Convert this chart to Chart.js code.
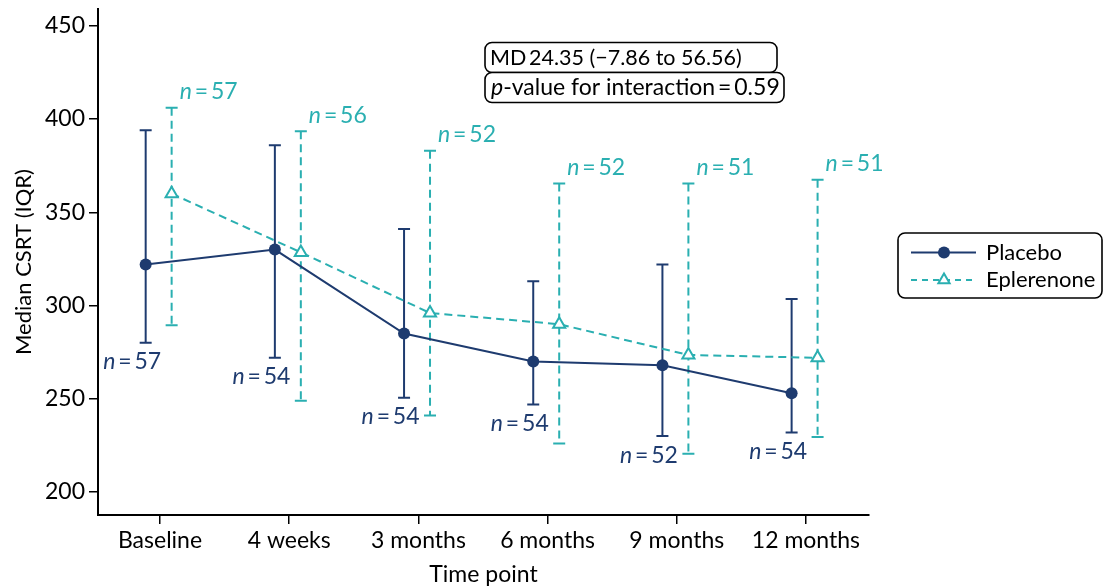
<!DOCTYPE html>
<html>
<head>
<meta charset="utf-8">
<script src="https://cdn.jsdelivr.net/npm/chart.js@4.4.1/dist/chart.umd.min.js"></script>
<style>
  html, body { margin: 0; padding: 0; background: #fff; }
  #c { display: block; }
</style>
</head>
<body>
<canvas id="c" width="1105" height="588"></canvas>
<script>
// Central subfield retinal thickness over follow-up, median with IQR whiskers
const timePoints = ['Baseline', '4 weeks', '3 months', '6 months', '9 months', '12 months'];

const placeboMedian = [322, 330, 285, 270, 268, 253];
const placeboQ1     = [280, 272, 250.5, 247, 230, 232];
const placeboQ3     = [394, 386, 341, 313, 322, 303.5];
const placeboN      = [57, 54, 54, 54, 52, 54];

const eplerenoneMedian = [360, 328.5, 296, 290, 273.5, 272];
const eplerenoneQ1     = [289.5, 249, 241, 226, 220.5, 229.5];
const eplerenoneQ3     = [406, 393.5, 383, 365.5, 365.5, 367.5];
const eplerenoneN      = [57, 56, 52, 52, 51, 51];

const yTicks = [200, 250, 300, 350, 400, 450];

const mdLabel = 'MD\u200924.35 (\u22127.86 to 56.56)';
const interactionP = '0.59';

const NAVY = '#1e3b6f';
const TEAL = '#2aafb1';
const FONT = 'Lato, "Open Sans", sans-serif';
const FS = 23;

// horizontal dodge so the two groups sit either side of each tick
const DODGE_PLACEBO = -0.111;
const DODGE_EPLERENONE = 0.09;

const series = [
  { name: 'Placebo', median: placeboMedian, q1: placeboQ1, q3: placeboQ3, n: placeboN,
    dodge: DODGE_PLACEBO, color: NAVY, dash: [], labelSide: 'below' },
  { name: 'Eplerenone', median: eplerenoneMedian, q1: eplerenoneQ1, q3: eplerenoneQ3, n: eplerenoneN,
    dodge: DODGE_EPLERENONE, color: TEAL, dash: [8, 5], labelSide: 'above' }
];

function roundRectPath(ctx, x, y, w, h, r) {
  ctx.beginPath();
  ctx.moveTo(x + r, y);
  ctx.lineTo(x + w - r, y);
  ctx.arcTo(x + w, y, x + w, y + r, r);
  ctx.lineTo(x + w, y + h - r);
  ctx.arcTo(x + w, y + h, x + w - r, y + h, r);
  ctx.lineTo(x + r, y + h);
  ctx.arcTo(x, y + h, x, y + h - r, r);
  ctx.lineTo(x, y + r);
  ctx.arcTo(x, y, x + r, y, r);
  ctx.closePath();
}

// italic "n" followed by " = value"
function drawCount(ctx, n, x, y, align, color) {
  const fi = 'italic ' + FS + 'px ' + FONT;
  const fr = FS + 'px ' + FONT;
  const rest = '\u2009=\u2009' + n;
  ctx.font = fi;
  const wn = ctx.measureText('n').width;
  ctx.font = fr;
  const wr = ctx.measureText(rest).width;
  const x0 = align === 'right' ? x - wn - wr : x;
  ctx.fillStyle = color;
  ctx.textAlign = 'left';
  ctx.textBaseline = 'middle';
  ctx.font = fi;
  ctx.fillText('n', x0, y);
  ctx.font = fr;
  ctx.fillText(rest, x0 + wn, y);
}

function triangle(ctx, x, y, r) {
  ctx.beginPath();
  for (let k = 0; k < 3; k++) {
    const a = -Math.PI / 2 + k * 2 * Math.PI / 3;
    const px = x + Math.cos(a) * r, py = y + Math.sin(a) * r;
    if (k === 0) ctx.moveTo(px, py); else ctx.lineTo(px, py);
  }
  ctx.closePath();
}

const overlay = {
  id: 'overlay',
  beforeDatasetsDraw(chart) {
    const { ctx, scales: { x, y } } = chart;
    ctx.save();
    series.forEach(s => {
      ctx.strokeStyle = s.color;
      ctx.lineWidth = 2;
      s.median.forEach((_, i) => {
        const px = x.getPixelForValue(i + s.dodge);
        const top = y.getPixelForValue(s.q3[i]);
        const bot = y.getPixelForValue(s.q1[i]);
        ctx.setLineDash(s.dash);
        ctx.beginPath();
        ctx.moveTo(px, top);
        ctx.lineTo(px, bot);
        ctx.stroke();
        ctx.setLineDash([]);
        ctx.beginPath();
        ctx.moveTo(px - 6, top); ctx.lineTo(px + 6, top);
        ctx.moveTo(px - 6, bot); ctx.lineTo(px + 6, bot);
        ctx.stroke();
      });
    });
    ctx.restore();
  },
  afterDatasetsDraw(chart) {
    const { ctx, scales: { x, y } } = chart;
    ctx.save();

    // group sizes beside the whisker ends
    series.forEach(s => {
      s.n.forEach((n, i) => {
        const px = x.getPixelForValue(i + s.dodge);
        if (s.labelSide === 'above') {
          drawCount(ctx, n, px + 8, y.getPixelForValue(s.q3[i]) - 16, 'left', s.color);
        } else {
          drawCount(ctx, n, px + 15.5, y.getPixelForValue(s.q1[i]) + 19, 'right', s.color);
        }
      });
    });

    // treatment effect boxes
    ctx.lineWidth = 1.6;
    ctx.strokeStyle = '#000';
    ctx.fillStyle = '#fff';
    const bx = 485;
    roundRectPath(ctx, bx, 42.5, 292, 30, 7);
    ctx.fill(); ctx.stroke();
    roundRectPath(ctx, bx, 72.5, 299, 30, 7);
    ctx.fill(); ctx.stroke();
    ctx.fillStyle = '#000';
    ctx.textBaseline = 'middle';
    ctx.textAlign = 'left';
    ctx.font = '21.5px ' + FONT;
    ctx.fillText(mdLabel, bx + 5, 58);
    ctx.font = 'italic ' + FS + 'px ' + FONT;
    ctx.fillText('p', bx + 6, 88);
    const wp = ctx.measureText('p').width;
    ctx.font = FS + 'px ' + FONT;
    ctx.fillText('-value for interaction\u2009=\u2009' + interactionP, bx + 6 + wp, 88);

    // legend
    const lx = 898, ly = 233;
    roundRectPath(ctx, lx, ly, 204, 65, 7);
    ctx.fillStyle = '#fff';
    ctx.fill();
    ctx.strokeStyle = '#000';
    ctx.lineWidth = 1.6;
    ctx.stroke();
    const rows = [
      { s: series[0], yy: 252.5 },
      { s: series[1], yy: 280 }
    ];
    rows.forEach(({ s, yy }) => {
      ctx.strokeStyle = s.color;
      ctx.lineWidth = 2;
      ctx.setLineDash(s.dash.length ? [6, 5] : []);
      ctx.beginPath();
      ctx.moveTo(911, yy);
      ctx.lineTo(976, yy);
      ctx.stroke();
      ctx.setLineDash([]);
      if (s.name === 'Placebo') {
        ctx.fillStyle = s.color;
        ctx.beginPath();
        ctx.arc(944, yy, 6, 0, Math.PI * 2);
        ctx.fill();
      } else {
        ctx.fillStyle = '#fff';
        triangle(ctx, 944, yy, 6.5);
        ctx.fill();
        ctx.stroke();
      }
      ctx.fillStyle = '#000';
      ctx.font = '22px ' + FONT;
      ctx.textAlign = 'left';
      ctx.textBaseline = 'middle';
      ctx.fillText(s.name, 986, yy);
    });

    ctx.restore();
  }
};

const datasets = series.map((s, k) => ({
  label: s.name,
  data: s.median.map((v, i) => ({ x: i + s.dodge, y: v })),
  borderColor: s.color,
  borderWidth: 2,
  borderDash: s.dash,
  pointStyle: k === 0 ? 'circle' : 'triangle',
  pointRadius: k === 0 ? 6 : 7,
  pointBackgroundColor: k === 0 ? s.color : '#fff',
  pointBorderColor: s.color,
  pointBorderWidth: k === 0 ? 0 : 2,
  tension: 0,
  fill: false
}));

const axisFont = { family: FONT, size: FS };

new Chart(document.getElementById('c'), {
  type: 'line',
  data: { datasets },
  options: {
    responsive: false,
    animation: false,
    layout: { padding: { top: 8, right: 236, left: 0, bottom: 0 } },
    plugins: { legend: { display: false }, tooltip: { enabled: false } },
    scales: {
      x: {
        type: 'linear',
        min: -0.48,
        max: 5.488,
        afterBuildTicks: s => { s.ticks = timePoints.map((_, i) => ({ value: i })); },
        afterFit: s => { s.height = 73; s.paddingLeft = 0; s.paddingRight = 0; },
        ticks: {
          callback: v => timePoints[v],
          font: axisFont, color: '#000', padding: 3, maxRotation: 0, autoSkip: false
        },
        grid: { display: true, drawOnChartArea: false, drawTicks: true, tickLength: 9, color: '#000', lineWidth: 1.5 },
        border: { display: true, color: '#000', width: 2 },
        title: { display: true, text: 'Time point', font: axisFont, color: '#000', padding: { top: 0, bottom: 0 } }
      },
      y: {
        min: 187.7,
        max: 459,
        afterBuildTicks: s => { s.ticks = yTicks.map(v => ({ value: v })); },
        afterFit: s => { s.width = 98; s.paddingTop = 0; s.paddingBottom = 0; },
        ticks: { font: axisFont, color: '#000', padding: 4 },
        grid: { display: true, drawOnChartArea: false, drawTicks: true, tickLength: 9, color: '#000', lineWidth: 1.5 },
        border: { display: true, color: '#000', width: 2 },
        title: { display: true, text: 'Median CSRT (IQR)', font: { family: FONT, size: 22 }, color: '#000', padding: { top: 11, bottom: 0 } }
      }
    }
  },
  plugins: [overlay]
});
</script>
</body>
</html>
